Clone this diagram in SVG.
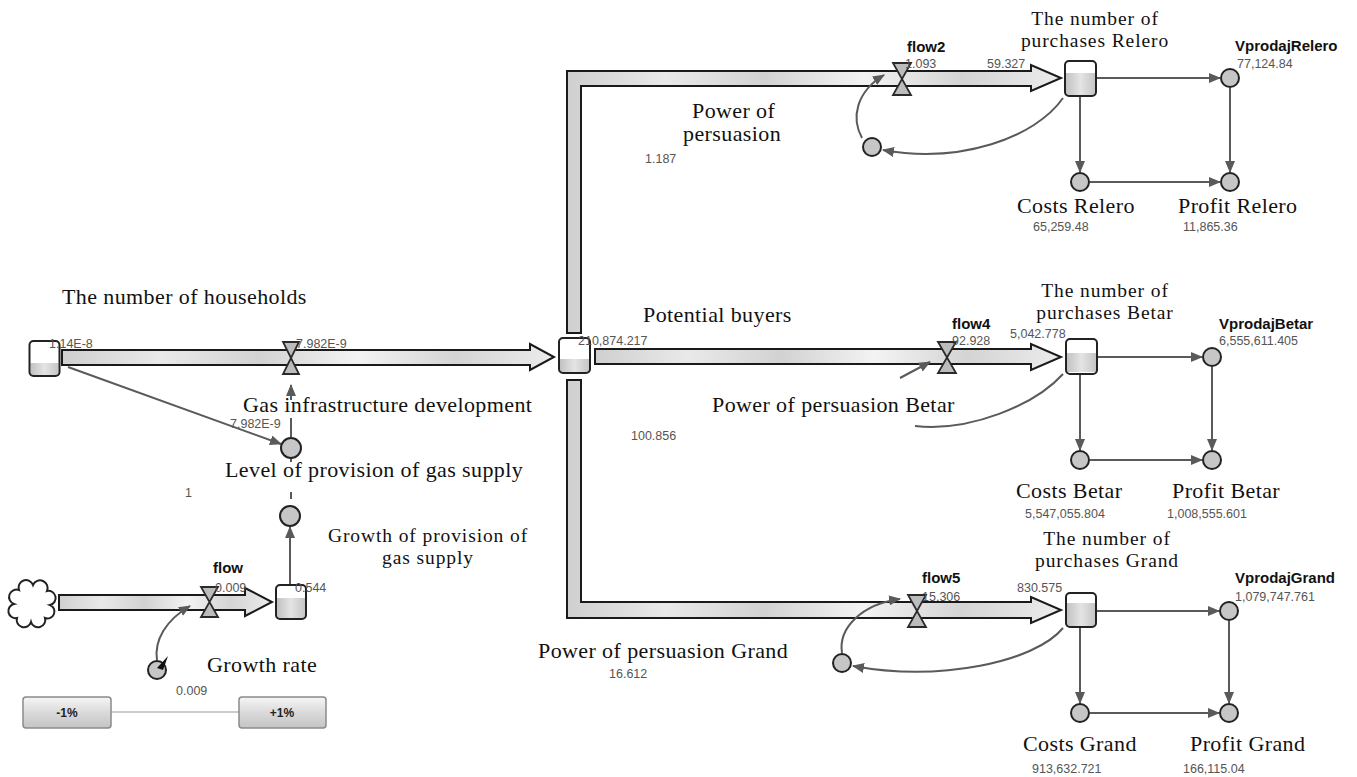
<svg xmlns="http://www.w3.org/2000/svg" width="1357" height="777" viewBox="0 0 1357 777">
<defs>
<linearGradient id="pipeG" x1="0" y1="0" x2="1" y2="0">
<stop offset="0" stop-color="#cfcfcf"/>
<stop offset="0.2" stop-color="#e9e9e9"/>
<stop offset="0.4" stop-color="#d2d2d2"/>
<stop offset="0.6" stop-color="#f3f3f3"/>
<stop offset="0.8" stop-color="#d4d4d4"/>
<stop offset="1" stop-color="#ececec"/>
</linearGradient>
<linearGradient id="stockFill" x1="0" y1="0" x2="1" y2="0">
<stop offset="0" stop-color="#c2c2c2"/>
<stop offset="0.5" stop-color="#e4e4e4"/>
<stop offset="1" stop-color="#c6c6c6"/>
</linearGradient>
<linearGradient id="btnG" x1="0" y1="0" x2="0" y2="1">
<stop offset="0" stop-color="#f6f6f6"/>
<stop offset="0.5" stop-color="#dadada"/>
<stop offset="1" stop-color="#c4c4c4"/>
</linearGradient>
<marker id="arr" markerWidth="12" markerHeight="10" refX="11" refY="5" orient="auto" markerUnits="userSpaceOnUse">
<path d="M0,0 L12,5 L0,10 z" fill="#5a5a5a"/>
</marker>
<style>
.serif{font-family:"Liberation Serif","Times New Roman",serif;font-size:22px;letter-spacing:0.4px;fill:#111}
.serif2{font-family:"Liberation Serif","Times New Roman",serif;font-size:19.5px;letter-spacing:0.9px;fill:#111}
.num{font-family:"Liberation Sans",Arial,sans-serif;font-size:12.5px;fill:#555}
.bold{font-family:"Liberation Sans",Arial,sans-serif;font-size:15px;font-weight:bold;fill:#111}
.btxt{font-family:"Liberation Sans",Arial,sans-serif;font-size:12px;font-weight:bold;fill:#222}
.pipe{fill:url(#pipeG);stroke:#1a1a1a;stroke-width:2;stroke-linejoin:miter}
.stock{fill:none;stroke:#222;stroke-width:2}
.sfill{fill:url(#stockFill)}
.aux{fill:#c6c6c6;stroke:#222;stroke-width:2}
.valve{fill:#bcbcbc;stroke:#2a2a2a;stroke-width:1.8;stroke-linejoin:miter}
.link{fill:none;stroke:#5a5a5a;stroke-width:2;marker-end:url(#arr)}
.plain{fill:none;stroke:#5a5a5a;stroke-width:2}
.btn{fill:url(#btnG);stroke:#8a8a8a;stroke-width:1.5}
</style>
</defs>
<rect x="0" y="0" width="1357" height="777" fill="#fff"/>

<g id="pipes">
<polygon class="pipe" points="62,350 530,350 530,344 554,357 530,370 530,365 62,365"/>
<polygon class="pipe" points="567,333 567,71 1031,71 1031,65 1061,78 1031,91 1031,86 581,86 581,333"/>
<polygon class="pipe" points="595,349 1031,349 1031,344 1061,357 1031,370 1031,364 595,364"/>
<polygon class="pipe" points="567,380 567,618 1031,618 1031,623 1061,610 1031,597 1031,602 581,602 581,380"/>
<polygon class="pipe" points="59,595 245,595 245,588 272,602 245,616 245,610 59,610"/>
</g>

<g id="connectors">
<line class="link" x1="68" y1="367" x2="281" y2="444"/>
<line class="plain" x1="291" y1="437" x2="291" y2="418"/>
<line class="link" x1="291" y1="400" x2="291" y2="385"/>
<line class="plain" x1="291" y1="458" x2="291" y2="462"/>
<line class="plain" x1="291" y1="492" x2="291" y2="499"/>
<line class="link" x1="290" y1="584" x2="290" y2="527"/>
<path class="link" d="M157,660 C154,640 166,620 190,606"/>
<path class="link" d="M1063,98 C1035,138 960,164 883,150"/>
<path class="link" d="M862,138 C851,118 856,92 884,75"/>
<line class="link" x1="1097" y1="78" x2="1220" y2="78"/>
<line class="link" x1="1080" y1="97" x2="1080" y2="172"/>
<line class="link" x1="1230" y1="88" x2="1230" y2="172"/>
<line class="link" x1="1090" y1="182" x2="1220" y2="182"/>
<line class="link" x1="900" y1="378" x2="930" y2="362"/>
<path class="plain" d="M1063,374 C1035,405 970,432 915,426"/>
<line class="link" x1="1098" y1="357" x2="1202" y2="357"/>
<line class="link" x1="1080" y1="375" x2="1080" y2="450"/>
<line class="link" x1="1212" y1="367" x2="1212" y2="450"/>
<line class="link" x1="1090" y1="460" x2="1202" y2="460"/>
<path class="link" d="M1063,628 C1035,662 940,682 853,666"/>
<path class="link" d="M842,653 C838,628 862,604 900,599"/>
<line class="link" x1="1097" y1="611" x2="1219" y2="611"/>
<line class="link" x1="1080" y1="628" x2="1080" y2="703"/>
<line class="link" x1="1229" y1="621" x2="1229" y2="703"/>
<line class="link" x1="1090" y1="713" x2="1219" y2="713"/>
<line x1="111" y1="712" x2="239" y2="712" stroke="#bbb" stroke-width="1.5"/>
</g>

<g id="households">
<rect class="sfill" x="30.5" y="363" width="28" height="12"/>
<rect class="stock" x="29.5" y="341" width="30" height="35" rx="4"/>
<text class="serif" x="62" y="304">The number of households</text>
<text class="num" x="49" y="348">1.14E-8</text>
</g>

<g id="gas-infrastructure-development">
<path class="valve" d="M283,342 L299,342 L283,374 L299,374 Z"/>
<text class="num" x="296" y="348">7.982E-9</text>
<text class="serif" x="243" y="412">Gas infrastructure development</text>
</g>

<g id="potential-buyers">
<rect class="sfill" x="560" y="359" width="29" height="13"/>
<rect class="stock" x="559" y="338" width="31" height="35" rx="4"/>
<text class="serif" x="643" y="322">Potential buyers</text>
<text class="num" x="578" y="345">210,874.217</text>
</g>

<g id="level-of-provision">
<circle class="aux" cx="291" cy="448" r="10"/>
<text class="num" x="230" y="428">7.982E-9</text>
<text class="serif" x="225" y="477">Level of provision of gas supply</text>
<text class="num" x="185" y="497">1</text>
</g>

<g id="growth-of-provision">
<circle class="aux" cx="290" cy="516" r="10"/>
<text class="serif2" x="428" y="542" text-anchor="middle">Growth of provision of</text>
<text class="serif2" x="428" y="564" text-anchor="middle">gas supply</text>
</g>

<g id="growth-stock">
<rect class="sfill" x="277" y="598" width="28" height="20"/>
<rect class="stock" x="276" y="585" width="30" height="34" rx="4"/>
<text class="num" x="295" y="592">0.544</text>
</g>

<g id="cloud">
<path d="M17,618 a1,1 0 0 1 -3,-14 a1,1 0 0 1 5,-14 a1,1 0 0 1 14,-5 a1,1 0 0 1 14,6 a1,1 0 0 1 3,14 a1,1 0 0 1 -5,13 a1,1 0 0 1 -14,4 a1,1 0 0 1 -14,-4 z" fill="#fff" stroke="#222" stroke-width="2"/>
</g>

<g id="flow">
<path class="valve" d="M201,587 L218,587 L201,617 L218,617 Z"/>
<text class="bold" x="213" y="573">flow</text>
<text class="num" x="215" y="592">0.009</text>
</g>

<g id="growth-rate">
<circle class="aux" cx="157" cy="670" r="9"/>
<polygon points="157,668 168,656 163,670" fill="#111"/>
<text class="serif" x="207" y="672">Growth rate</text>
<text class="num" x="176" y="695">0.009</text>
</g>

<g id="button-minus">
<rect class="btn" x="23" y="697" width="88" height="31" rx="3"/>
<text class="btxt" x="67" y="717" text-anchor="middle">-1%</text>
</g>
<g id="button-plus">
<rect class="btn" x="239" y="697" width="87" height="31" rx="3"/>
<text class="btxt" x="282" y="717" text-anchor="middle">+1%</text>
</g>

<g id="flow2">
<path class="valve" d="M893,63 L911,63 L893,95 L911,95 Z"/>
<text class="bold" x="907" y="52">flow2</text>
<text class="num" x="905" y="68">1.093</text>
</g>
<g id="power-of-persuasion">
<circle class="aux" cx="872" cy="147" r="9"/>
<text class="serif" x="692" y="118">Power of</text>
<text class="serif" x="683" y="141">persuasion</text>
<text class="num" x="645" y="163">1.187</text>
</g>
<g id="purchases-relero">
<rect class="sfill" x="1066" y="73" width="29" height="22"/>
<rect class="stock" x="1065" y="61" width="31" height="35" rx="4"/>
<text class="serif2" x="1095" y="25" text-anchor="middle">The number of</text>
<text class="serif2" x="1095" y="47" text-anchor="middle">purchases Relero</text>
<text class="num" x="987" y="68">59.327</text>
</g>
<g id="vprodaj-relero">
<circle class="aux" cx="1230" cy="78" r="9"/>
<text class="bold" x="1235" y="51">VprodajRelero</text>
<text class="num" x="1237" y="68">77,124.84</text>
</g>
<g id="costs-relero">
<circle class="aux" cx="1080" cy="182" r="9"/>
<text class="serif" x="1017" y="213">Costs Relero</text>
<text class="num" x="1033" y="231">65,259.48</text>
</g>
<g id="profit-relero">
<circle class="aux" cx="1230" cy="182" r="9"/>
<text class="serif" x="1178" y="213">Profit Relero</text>
<text class="num" x="1183" y="231">11,865.36</text>
</g>

<g id="flow4">
<path class="valve" d="M938,342 L956,342 L938,373 L956,373 Z"/>
<text class="bold" x="952" y="329">flow4</text>
<text class="num" x="952" y="345">92.928</text>
</g>
<g id="power-of-persuasion-betar">
<text class="serif" x="712" y="412">Power of persuasion Betar</text>
<text class="num" x="631" y="440">100.856</text>
</g>
<g id="purchases-betar">
<rect class="sfill" x="1067" y="353" width="29" height="19"/>
<rect class="stock" x="1066" y="339" width="31" height="35" rx="4"/>
<text class="serif2" x="1105" y="297" text-anchor="middle">The number of</text>
<text class="serif2" x="1105" y="319" text-anchor="middle">purchases Betar</text>
<text class="num" x="1010" y="338">5,042.778</text>
</g>
<g id="vprodaj-betar">
<circle class="aux" cx="1212" cy="357" r="9"/>
<text class="bold" x="1219" y="329">VprodajBetar</text>
<text class="num" x="1219" y="345">6,555,611.405</text>
</g>
<g id="costs-betar">
<circle class="aux" cx="1080" cy="460" r="9"/>
<text class="serif" x="1016" y="498">Costs Betar</text>
<text class="num" x="1025" y="518">5,547,055.804</text>
</g>
<g id="profit-betar">
<circle class="aux" cx="1212" cy="460" r="9"/>
<text class="serif" x="1172" y="498">Profit Betar</text>
<text class="num" x="1167" y="518">1,008,555.601</text>
</g>

<g id="flow5">
<path class="valve" d="M908,595 L926,595 L908,627 L926,627 Z"/>
<text class="bold" x="922" y="583">flow5</text>
<text class="num" x="922" y="601">15.306</text>
</g>
<g id="power-of-persuasion-grand">
<circle class="aux" cx="842" cy="663" r="9"/>
<text class="serif" x="538" y="658">Power of persuasion Grand</text>
<text class="num" x="609" y="678">16.612</text>
</g>
<g id="purchases-grand">
<rect class="sfill" x="1067" y="603" width="28" height="23"/>
<rect class="stock" x="1066" y="593" width="30" height="34" rx="4"/>
<text class="serif2" x="1107" y="545" text-anchor="middle">The number of</text>
<text class="serif2" x="1107" y="567" text-anchor="middle">purchases Grand</text>
<text class="num" x="1017" y="592">830.575</text>
</g>
<g id="vprodaj-grand">
<circle class="aux" cx="1229" cy="611" r="9"/>
<text class="bold" x="1235" y="583">VprodajGrand</text>
<text class="num" x="1235" y="601">1,079,747.761</text>
</g>
<g id="costs-grand">
<circle class="aux" cx="1080" cy="713" r="9"/>
<text class="serif" x="1023" y="751">Costs Grand</text>
<text class="num" x="1032" y="773">913,632.721</text>
</g>
<g id="profit-grand">
<circle class="aux" cx="1229" cy="713" r="9"/>
<text class="serif" x="1190" y="751">Profit Grand</text>
<text class="num" x="1183" y="773">166,115.04</text>
</g>
</svg>
